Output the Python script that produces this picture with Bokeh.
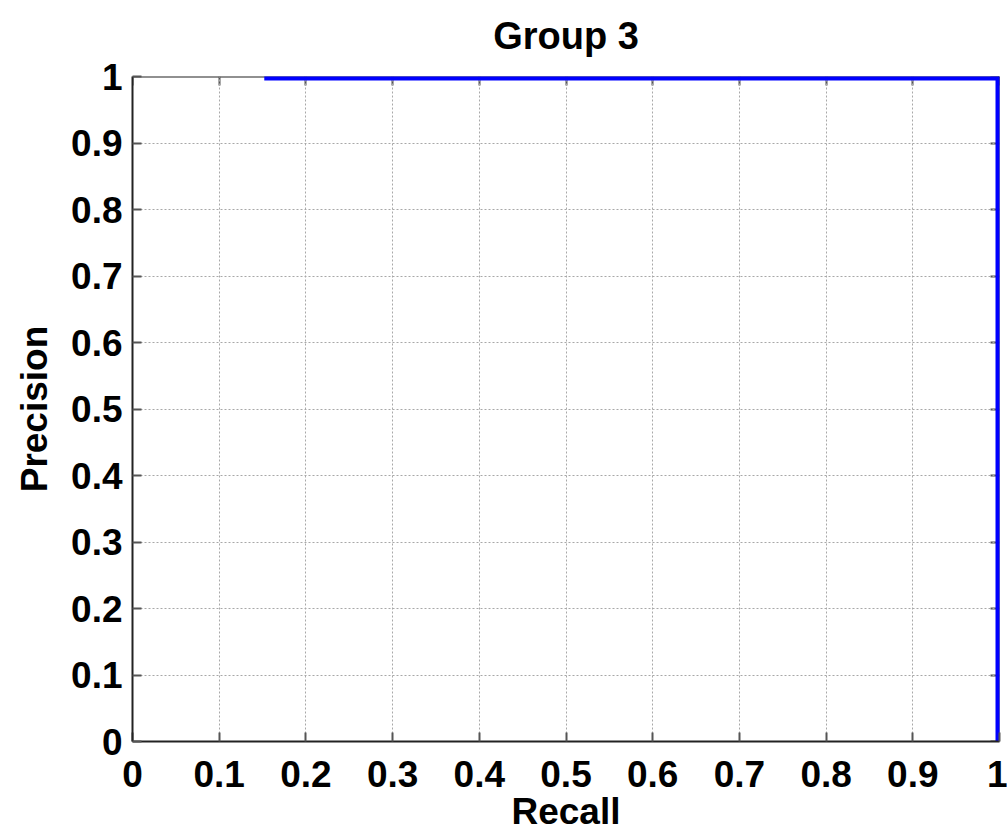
from bokeh.plotting import figure
from bokeh.models import (LinearAxis, Range1d, FixedTicker, CustomJSTickFormatter,
                          CustomLabelingPolicy)
from bokeh.embed import file_html
from bokeh.resources import INLINE

# data
recall = [0.152, 1.0, 1.0]
precision = [1.0, 1.0, 0.0]
tick_values = [0, 0.1, 0.2, 0.3, 0.4, 0.5, 0.6, 0.7, 0.8, 0.9, 1]
tick_labels = ["0", "0.1", "0.2", "0.3", "0.4", "0.5", "0.6", "0.7", "0.8", "0.9", "1"]
title_text = "Group 3"
x_label = "Recall"
y_label = "Precision"

FONT = "Liberation Sans"
FS = "37px"

p = figure(width=1007, height=834, x_range=Range1d(0, 1), y_range=Range1d(0, 1),
           output_backend="svg", toolbar_location=None,
           min_border_left=132, min_border_right=8, min_border_top=76, min_border_bottom=91,
           title=title_text)

p.title.text_font = FONT
p.title.text_font_size = "38px"
p.title.text_font_style = "bold"
p.title.text_color = "black"
p.title.align = "center"
p.title.vertical_align = "top"
p.title.text_line_height = 0.8
p.title.standoff = 27
p.title.offset = 0

fmt = CustomJSTickFormatter(args=dict(vals=tick_values, labs=tick_labels), code="""
for (let i = 0; i < vals.length; i++) { if (Math.abs(vals[i] - tick) < 1e-9) return labs[i]; }
return '';
""")

for ax in (p.xaxis[0], p.yaxis[0]):
    ax.ticker = FixedTicker(ticks=tick_values)
    ax.formatter = fmt
    ax.major_label_text_font = FONT
    ax.major_label_text_font_size = FS
    ax.major_label_text_font_style = "bold"
    ax.major_label_text_color = "black"
    ax.axis_label_text_font = FONT
    ax.axis_label_text_font_size = FS
    ax.axis_label_text_font_style = "bold"
    ax.axis_label_text_color = "black"
    ax.major_tick_in = 9
    ax.major_tick_out = 0
    ax.minor_tick_line_color = None
    ax.axis_line_width = 2
    ax.axis_line_color = "#222222"
    ax.major_tick_line_color = "#555555"
    ax.major_tick_line_width = 2

p.xaxis[0].axis_label = x_label
p.yaxis[0].axis_label = y_label
p.xaxis[0].major_label_standoff = 19
p.xaxis[0].axis_label_standoff = 1
p.yaxis[0].major_label_standoff = 10
p.yaxis[0].axis_label_standoff = 13

no_labels = CustomLabelingPolicy(code="""
for (const i of indices) { indices.unset(i) }
return indices
""")

for loc in ("above", "right"):
    ax = LinearAxis(ticker=FixedTicker(ticks=tick_values),
                    major_label_policy=no_labels,
                    major_label_text_font_size="1px",
                    major_tick_in=9, major_tick_out=0,
                    minor_tick_line_color=None,
                    axis_line_width=2, axis_line_color="#222222",
                    major_tick_line_color="#555555", major_tick_line_width=2,
                    major_label_standoff=0, level="underlay")
    p.add_layout(ax, loc)

for g in (p.xgrid[0], p.ygrid[0]):
    g.ticker = FixedTicker(ticks=tick_values)
    g.grid_line_color = "#a8a8a8"
    g.grid_line_dash = "2 2"
    g.grid_line_width = 1

p.outline_line_color = None
p.background_fill_color = "white"
p.border_fill_color = "white"

p.line(recall, precision, line_color="#0000ff", line_width=8)

open("out.html", "w").write(file_html(p, INLINE))
